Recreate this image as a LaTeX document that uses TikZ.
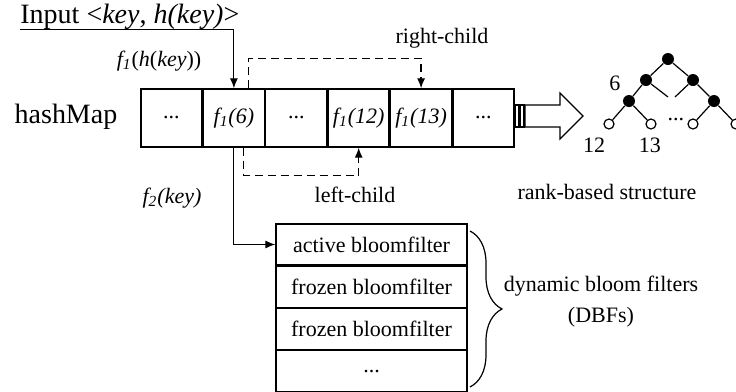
\documentclass[tikz,border=0pt]{standalone}
\usepackage{fontspec}
\setmainfont{Liberation Serif}
\usetikzlibrary{positioning,decorations.pathreplacing,arrows.meta}

\begin{document}
\begin{tikzpicture}[
		x=0.5pt, y=-0.5pt,
		every node/.style={font=\fontsize{11}{15.5}\selectfont},
		ar/.style={-{Latex[length=5pt,width=4pt]}, line width=0.6pt},
		dar/.style={ar, dash pattern=on 4pt off 2.5pt},
		cell/.style={draw, line width=0.7pt, minimum width=30.5pt, minimum height=29pt, inner sep=0pt},
		bf/.style={draw, line width=0.6pt, minimum width=95.5pt, minimum height=20.5pt, inner sep=0pt},
		inner/.style={circle, fill, inner sep=0pt, minimum size=6pt},
		leaf/.style={circle, draw, fill=white, line width=0.6pt, inner sep=0pt, minimum size=5pt}
	]
		\useasboundingbox (0,0) rectangle (736,392);

		% input and hash map
		\node[anchor=base west, inner sep=0pt, font=\fontsize{14}{16}\selectfont] (inp) at (20,23) {Input <\textit{key}, \textit{h(key)}>};
		\node[font=\fontsize{14}{16}\selectfont] (hm) at (66,117) {hashMap};
		\node[cell] (c1) at (171.5,118) {...};
		\node[cell,right=0pt of c1] (c2) {\textit{f\textsubscript{1}(6)}};
		\node[cell,right=0pt of c2] (c3) {...};
		\node[cell,right=0pt of c3] (c4) {\textit{f\textsubscript{1}(12)}};
		\node[cell,right=0pt of c4] (c5) {\textit{f\textsubscript{1}(13)}};
		\node[cell,right=0pt of c5] (c6) {...};

		\draw[ar] (inp.south west) -| (c2.north);
		\node (fone) at (159,61) {\textit{f\textsubscript{1}}(\textit{h}(\textit{key}))};

		% child links
		\draw[dar] ([xshift=7.5pt]c2.north) -- ++(0,-30) -| (c5.north);
		\node (rc) at (442,38) {right-child};
		\draw[dar] ([xshift=5pt]c2.south) -- ++(0,28) -| (c4.south);
		\node (lc) at (355,195) {left-child};

		% dynamic bloom filters
		\node[bf] (b1) at (371.5,244.5) {active bloomfilter};
		\node[bf,below=0pt of b1] (b2) {frozen bloomfilter};
		\node[bf,below=0pt of b2] (b3) {frozen bloomfilter};
		\node[bf,below=0pt of b3] (b4) {...};
		\draw[ar] (c2.south) |- (b1.west);
		\node (ftwo) at (172,198) {\textit{f\textsubscript{2}(key)}};

		\draw[line width=0.6pt, decorate, decoration={brace, amplitude=16pt}] (470,231) -- (470,387);
		\node[align=center] (dbf) at (601,302) {dynamic bloom filters\\(DBFs)};

		% block arrow
		\draw[line width=0.6pt] (515,105) rectangle (519,127);
		\draw[line width=0.6pt] (520,105) rectangle (524,127);
		\draw[line width=0.6pt] (525,105) -- (560,105) -- (560,93) -- (583,116)
			-- (560,139) -- (560,127) -- (525,127) -- cycle;

		% rank-based tree
		\node[inner] (r) at (668,59) {};
		\node[inner] (n1) at (646,80) {};
		\node[inner] (n2) at (693,80) {};
		\node[inner] (n3) at (629,101) {};
		\node[inner] (n4) at (714,101) {};
		\node[leaf] (l1) at (609,124) {};
		\node[leaf] (l2) at (651,124) {};
		\node[leaf] (l3) at (693,124) {};
		\node[leaf] (l4) at (736,124) {};
		\coordinate (m1) at (668,97);
		\coordinate (m2) at (675,97);
		\begin{scope}[line width=0.6pt]
			\draw (r) -- (n1) (r) -- (n2);
			\draw (n1) -- (n3) (n1) -- (m1);
			\draw (n2) -- (n4) (n2) -- (m2);
			\draw (n3) -- (l1) (n3) -- (l2);
			\draw (n4) -- (l3) (n4) -- (l4);
		\end{scope}
		\node (six) at (615,83) {6};
		\node (dots) at (676,120) {...};
		\node (k12) at (594,145) {12};
		\node (k13) at (650,145) {13};
		\node (rbs) at (607,192) {rank-based structure};
	\end{tikzpicture}
\end{document}
